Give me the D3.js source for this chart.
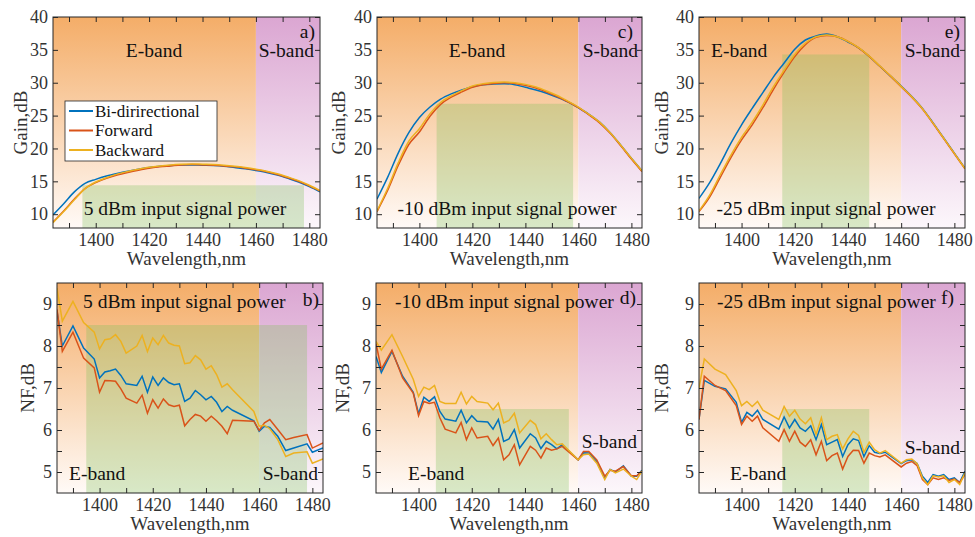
<!DOCTYPE html>
<html>
<head>
<meta charset="utf-8">
<script src="https://cdn.jsdelivr.net/npm/d3@7"></script>
<style>
body { margin: 0; background: white; }
svg text { font-family: "Liberation Serif", "Times New Roman", serif; }
</style>
</head>
<body>
<div id="chart"></div>
<script>
// gain curves, sampled every 4 nm
var gainWl = [1384, 1388, 1392, 1396, 1400, 1404, 1408, 1412, 1416, 1420, 1424, 1428, 1432, 1436, 1440, 1444, 1448, 1452, 1456, 1460, 1464, 1468, 1472, 1476, 1480, 1484];

// a) 5 dBm
var gainBiA = [9.9, 11.6, 13.4, 14.7, 15.3, 15.8, 16.2, 16.55, 16.85, 17.1, 17.3, 17.4, 17.5, 17.5, 17.45, 17.4, 17.3, 17.1, 16.9, 16.65, 16.35, 15.95, 15.45, 14.9, 14.2, 13.4];
var gainFwA = [8.8, 10.5, 12.3, 13.9, 14.8, 15.45, 15.95, 16.35, 16.7, 17.0, 17.2, 17.35, 17.5, 17.55, 17.5, 17.45, 17.35, 17.2, 17.0, 16.75, 16.45, 16.05, 15.55, 15.0, 14.3, 13.5];
var gainBwA = [8.7, 10.4, 12.2, 13.9, 14.9, 15.55, 16.1, 16.5, 16.85, 17.15, 17.35, 17.5, 17.6, 17.65, 17.6, 17.55, 17.45, 17.3, 17.1, 16.85, 16.55, 16.15, 15.65, 15.1, 14.4, 13.6];
// c) -10 dBm
var gainBiC = [12.3, 15.6, 19.3, 22.4, 24.7, 26.3, 27.5, 28.3, 28.9, 29.4, 29.7, 29.8, 29.85, 29.7, 29.3, 28.9, 28.4, 27.8, 27.1, 26.2, 25.2, 24.0, 22.4, 20.5, 18.5, 16.6];
var gainFwC = [10.4, 13.6, 17.4, 20.6, 22.5, 24.9, 26.7, 27.8, 28.6, 29.3, 29.7, 29.9, 30.0, 29.9, 29.6, 29.2, 28.6, 27.9, 27.1, 26.2, 25.1, 23.9, 22.3, 20.4, 18.4, 16.5];
var gainBwC = [10.5, 13.9, 17.8, 21.1, 23.0, 25.3, 27.0, 28.0, 28.8, 29.5, 29.85, 30.05, 30.1, 30.0, 29.75, 29.35, 28.75, 28.05, 27.2, 26.3, 25.2, 24.0, 22.4, 20.5, 18.5, 16.6];
// e) -25 dBm
var gainBiE = [12.4, 14.8, 17.7, 20.8, 23.6, 26.1, 28.5, 30.9, 33.0, 35.1, 36.5, 37.1, 37.4, 37.0, 36.2, 35.3, 34.0, 32.5, 31.0, 29.5, 27.9, 26.1, 23.9, 21.6, 19.3, 17.0];
var gainFwE = [10.4, 12.6, 15.6, 18.6, 21.3, 23.6, 26.2, 29.0, 31.6, 34.0, 35.8, 36.9, 37.2, 37.0, 36.3, 35.3, 34.0, 32.5, 31.0, 29.4, 27.8, 26.0, 23.8, 21.5, 19.2, 16.9];
var gainBwE = [10.5, 12.9, 16.0, 19.0, 21.7, 24.0, 26.6, 29.4, 31.9, 34.3, 36.0, 37.0, 37.25, 37.0, 36.3, 35.35, 34.05, 32.55, 31.05, 29.45, 27.85, 26.05, 23.85, 21.55, 19.25, 16.95];

// b) NF, 5 dBm
var nfWlB = [1384, 1386, 1390, 1394, 1398, 1400, 1402, 1404, 1406, 1408, 1410, 1414, 1416, 1418, 1420, 1422, 1424, 1426, 1428, 1430, 1432, 1434, 1436, 1438, 1440, 1442, 1444, 1446, 1448, 1450, 1458, 1460, 1462, 1464, 1467, 1470, 1473, 1478, 1480, 1484];
var nfBiB = [8.83, 8.0, 8.48, 7.95, 7.69, 7.24, 7.38, 7.41, 7.45, 7.30, 7.10, 7.06, 7.28, 6.90, 7.26, 7.06, 7.24, 7.13, 7.08, 7.10, 6.68, 6.76, 6.94, 6.84, 6.72, 6.80, 6.66, 6.44, 6.56, 6.47, 6.22, 5.97, 6.09, 6.06, 5.85, 5.51, 5.57, 5.67, 5.47, 5.57];
var nfFwB = [8.87, 7.87, 8.33, 7.71, 7.48, 6.90, 7.18, 7.17, 7.16, 6.98, 6.76, 6.64, 6.83, 6.40, 6.72, 6.52, 6.74, 6.60, 6.56, 6.59, 6.10, 6.25, 6.37, 6.33, 6.21, 6.33, 6.22, 6.09, 5.91, 6.23, 6.21, 5.99, 6.17, 6.25, 6.01, 5.77, 5.82, 5.89, 5.57, 5.69];
var nfBwB = [9.38, 8.59, 9.06, 8.56, 8.33, 7.93, 8.15, 8.17, 8.27, 8.11, 7.83, 8.0, 8.25, 7.87, 8.19, 8.03, 8.25, 8.07, 8.02, 8.0, 7.58, 7.6, 7.77, 7.67, 7.45, 7.53, 7.32, 7.02, 7.10, 6.96, 6.44, 6.09, 6.11, 6.03, 5.77, 5.37, 5.45, 5.48, 5.21, 5.31];

// d) NF, -10 dBm
var nfWlD = [1384, 1386, 1390, 1394, 1398, 1400, 1402, 1404, 1406, 1408, 1410, 1414, 1416, 1418, 1420, 1422, 1426, 1428, 1430, 1432, 1434, 1436, 1438, 1442, 1444, 1446, 1448, 1450, 1452, 1454, 1460, 1462, 1464, 1467, 1470, 1472, 1474, 1477, 1480, 1482, 1484];
var nfBiD = [7.75, 7.37, 7.87, 7.28, 6.90, 6.39, 6.78, 6.68, 6.79, 6.44, 6.26, 6.21, 6.47, 6.17, 6.34, 6.21, 6.19, 6.02, 6.25, 5.73, 5.79, 6.01, 5.57, 5.91, 5.81, 5.56, 5.73, 5.65, 5.55, 5.65, 5.29, 5.46, 5.45, 5.25, 4.86, 5.06, 5.0, 5.15, 4.90, 4.90, 5.04];
var nfFwD = [8.06, 7.45, 7.90, 7.24, 6.88, 6.34, 6.68, 6.63, 6.66, 6.29, 6.02, 5.93, 6.18, 5.77, 6.05, 5.81, 5.85, 5.63, 5.81, 5.29, 5.41, 5.65, 5.17, 5.61, 5.52, 5.33, 5.57, 5.52, 5.55, 5.61, 5.29, 5.49, 5.49, 5.29, 4.90, 5.04, 5.02, 5.13, 4.91, 4.91, 5.02];
var nfBwD = [8.11, 7.90, 8.27, 7.75, 7.21, 6.80, 7.02, 6.96, 7.06, 6.68, 6.63, 6.63, 6.90, 6.62, 6.80, 6.68, 6.64, 6.48, 6.64, 6.17, 6.23, 6.40, 5.93, 6.23, 6.13, 5.79, 5.91, 5.77, 5.65, 5.67, 5.29, 5.41, 5.43, 5.21, 4.82, 5.06, 4.98, 5.07, 4.90, 4.82, 5.02];

// f) NF, -25 dBm
var nfWlF = [1384, 1386, 1390, 1394, 1398, 1400, 1402, 1404, 1406, 1408, 1414, 1416, 1418, 1420, 1422, 1424, 1426, 1428, 1430, 1432, 1434, 1436, 1438, 1440, 1442, 1444, 1446, 1448, 1450, 1452, 1454, 1460, 1462, 1464, 1466, 1468, 1470, 1472, 1474, 1476, 1478, 1480, 1482, 1484];
var nfBiF = [6.25, 7.18, 7.04, 6.98, 6.66, 6.18, 6.42, 6.33, 6.47, 6.25, 6.02, 6.31, 6.05, 6.25, 6.05, 5.97, 6.10, 5.77, 6.13, 5.65, 5.71, 5.77, 5.37, 5.65, 5.79, 5.75, 5.37, 5.63, 5.47, 5.44, 5.47, 5.20, 5.27, 5.29, 5.20, 4.90, 4.75, 4.94, 4.90, 4.94, 4.82, 4.86, 4.75, 5.02];
var nfFwF = [6.25, 7.28, 7.06, 6.94, 6.58, 6.13, 6.33, 6.21, 6.33, 6.05, 5.73, 6.01, 5.73, 5.97, 5.71, 5.61, 5.77, 5.41, 5.73, 5.27, 5.39, 5.45, 5.07, 5.37, 5.52, 5.51, 5.21, 5.45, 5.39, 5.36, 5.41, 5.12, 5.21, 5.25, 5.15, 4.82, 4.70, 4.86, 4.82, 4.86, 4.80, 4.83, 4.75, 4.94];
var nfBwF = [7.0, 7.69, 7.45, 7.32, 6.94, 6.58, 6.68, 6.56, 6.68, 6.47, 6.25, 6.56, 6.33, 6.47, 6.26, 6.15, 6.29, 5.89, 6.29, 5.77, 5.85, 5.89, 5.55, 5.79, 5.97, 5.87, 5.47, 5.71, 5.53, 5.45, 5.51, 5.21, 5.29, 5.31, 5.20, 4.86, 4.70, 4.91, 4.88, 4.91, 4.75, 4.82, 4.70, 4.98];

var seriesNames = ['Bi-dirirectional', 'Forward', 'Backward'];
var seriesColors = ['#0072BD', '#D95319', '#EDB120'];

var xTickLabels = [1400, 1420, 1440, 1460, 1480];
var gainTickLabels = [10, 15, 20, 25, 30, 35, 40];
var nfTickLabels = [5, 6, 7, 8, 9];

// band split and 3 dB (green) window per panel a..f
var bandEdge = 1460;
var greenFrom = [1395, 1406.5, 1415.3, 1395, 1406.5, 1415.3];
var greenTo = [1478, 1458, 1448, 1478, 1456.5, 1448];
var greenTop = [14.4, 26.8, 34.3, 8.5, 6.5, 6.5];
var powerLabels = ['5 dBm input signal power', '-10 dBm input signal power', '-25 dBm input signal power'];

var svgWidth = 975, svgHeight = 537;
var svg = d3.select('#chart').append('svg')
    .attr('width', svgWidth)
    .attr('height', svgHeight)
    .style('background', 'white');

var defs = svg.append('defs');
function vGrad(id, top, bottom) {
    var g = defs.append('linearGradient').attr('id', id)
        .attr('x1', 0).attr('y1', 0).attr('x2', 0).attr('y2', 1);
    g.append('stop').attr('offset', '0%').attr('stop-color', top);
    g.append('stop').attr('offset', '100%').attr('stop-color', bottom);
}
vGrad('eband', '#f4ad68', '#fffaf7');
vGrad('sband', '#dba6d2', '#fcf7fb');

var panels = [
    {x0: 53, x1: 320, y0: 17, y1: 228, ylab: 20, gain: true, wl: gainWl, ys: [gainBiA, gainFwA, gainBwA]},
    {x0: 377, x1: 642, y0: 17, y1: 228, ylab: 338, gain: true, wl: gainWl, ys: [gainBiC, gainFwC, gainBwC]},
    {x0: 699, x1: 965, y0: 17, y1: 228, ylab: 661, gain: true, wl: gainWl, ys: [gainBiE, gainFwE, gainBwE]},
    {x0: 57, x1: 323, y0: 283, y1: 493, ylab: 27, gain: false, wl: nfWlB, ys: [nfBiB, nfFwB, nfBwB]},
    {x0: 376, x1: 642, y0: 283, y1: 493, ylab: 342, gain: false, wl: nfWlD, ys: [nfBiD, nfFwD, nfBwD]},
    {x0: 699, x1: 965, y0: 283, y1: 493, ylab: 661, gain: false, wl: nfWlF, ys: [nfBiF, nfFwF, nfBwF]}
];

// text placement per panel
var notes = [
    [{t: 'E-band', x: 154, y: 57, a: 'middle'}, {t: 'S-band', x: 314, y: 57, a: 'end'}, {t: 'a)', x: 315, y: 38, a: 'end'}, {t: powerLabels[0], x: 185, y: 215, a: 'middle'}],
    [{t: 'E-band', x: 477, y: 57, a: 'middle'}, {t: 'S-band', x: 638, y: 57, a: 'end'}, {t: 'c)', x: 633, y: 38, a: 'end'}, {t: powerLabels[1], x: 507, y: 215, a: 'middle'}],
    [{t: 'E-band', x: 711, y: 57, a: 'start'}, {t: 'S-band', x: 960, y: 57, a: 'end'}, {t: 'e)', x: 960, y: 38, a: 'end'}, {t: powerLabels[2], x: 826, y: 215, a: 'middle'}],
    [{t: 'E-band', x: 69, y: 480, a: 'start'}, {t: 'S-band', x: 318, y: 480, a: 'end'}, {t: 'b)', x: 319, y: 306, a: 'end'}, {t: powerLabels[0], x: 83, y: 308, a: 'start'}],
    [{t: 'E-band', x: 408, y: 480, a: 'start'}, {t: 'S-band', x: 637, y: 448, a: 'end'}, {t: 'd)', x: 636, y: 304, a: 'end'}, {t: powerLabels[1], x: 395, y: 308, a: 'start'}],
    [{t: 'E-band', x: 730, y: 480, a: 'start'}, {t: 'S-band', x: 960, y: 454, a: 'end'}, {t: 'f)', x: 954, y: 304, a: 'end'}, {t: powerLabels[2], x: 717, y: 308, a: 'start'}]
];

panels.forEach(function(p, i) {
    var x = d3.scaleLinear().domain([1384, 1484]).range([p.x0, p.x1]);
    var y = p.gain ? d3.scaleLinear().domain([7.9, 40]).range([p.y1, p.y0])
                   : d3.scaleLinear().domain([4.5, 9.5]).range([p.y1, p.y0]);
    var g = svg.append('g');

    defs.append('clipPath').attr('id', 'clip' + i)
        .append('rect').attr('x', p.x0).attr('y', p.y0)
        .attr('width', p.x1 - p.x0).attr('height', p.y1 - p.y0);

    //band backgrounds
    g.append('rect')
        .attr('x', p.x0).attr('y', p.y0)
        .attr('width', x(bandEdge) - p.x0).attr('height', p.y1 - p.y0)
        .attr('fill', 'url(#eband)');
    g.append('rect')
        .attr('x', x(bandEdge)).attr('y', p.y0)
        .attr('width', p.x1 - x(bandEdge)).attr('height', p.y1 - p.y0)
        .attr('fill', 'url(#sband)');

    //green window
    g.append('rect')
        .attr('x', x(greenFrom[i])).attr('y', y(greenTop[i]))
        .attr('width', x(greenTo[i]) - x(greenFrom[i])).attr('height', p.y1 - y(greenTop[i]))
        .attr('fill', '#7fbf5a').attr('opacity', 0.3);

    //curves
    var line = d3.line()
        .x(function(d) { return x(d[0]); })
        .y(function(d) { return y(d[1]); })
        .curve(p.gain ? d3.curveMonotoneX : d3.curveLinear);
    p.ys.forEach(function(vals, k) {
        g.append('path')
            .datum(p.wl.map(function(w, j) { return [w, vals[j]]; }))
            .attr('d', line)
            .attr('fill', 'none')
            .attr('stroke', seriesColors[k])
            .attr('stroke-width', 1.5)
            .attr('clip-path', 'url(#clip' + i + ')');
    });

    //axes, ticks inside on all sides
    var xTicks = d3.range(1390, 1481, 10);
    var yTicks = p.gain ? d3.range(10, 40.1, 5) : d3.range(5, 9.01, 0.5);
    var yLabels = p.gain ? gainTickLabels : nfTickLabels;

    var ax = g.append('g').attr('transform', 'translate(0,' + p.y1 + ')')
        .call(d3.axisBottom(x).tickValues(xTicks).tickSizeInner(-5).tickSizeOuter(0).tickPadding(5)
            .tickFormat(function(d) { return xTickLabels.indexOf(d) >= 0 ? d : ''; }));
    var axT = g.append('g').attr('transform', 'translate(0,' + p.y0 + ')')
        .call(d3.axisTop(x).tickValues(xTicks).tickSizeInner(-5).tickSizeOuter(0).tickFormat(''));
    var ay = g.append('g').attr('transform', 'translate(' + p.x0 + ',0)')
        .call(d3.axisLeft(y).tickValues(yTicks).tickSizeInner(-5).tickSizeOuter(0).tickPadding(5)
            .tickFormat(function(d) { return yLabels.indexOf(d) >= 0 ? d : ''; }));
    var ayR = g.append('g').attr('transform', 'translate(' + p.x1 + ',0)')
        .call(d3.axisRight(y).tickValues(yTicks).tickSizeInner(-5).tickSizeOuter(0).tickFormat(''));

    [ax, axT, ay, ayR].forEach(function(a) {
        a.select('.domain').remove();
        a.selectAll('line').attr('stroke', '#262626');
        a.selectAll('text')
            .attr('font-family', '"Liberation Serif", serif')
            .attr('font-size', '18px')
            .attr('fill', '#333');
    });

    //frame
    g.append('rect')
        .attr('x', p.x0).attr('y', p.y0)
        .attr('width', p.x1 - p.x0).attr('height', p.y1 - p.y0)
        .attr('fill', 'none').attr('stroke', '#262626').attr('stroke-width', 1);

    //axis titles
    g.append('text')
        .text('Wavelength,nm')
        .attr('x', (p.x0 + p.x1) / 2).attr('y', p.y1 + 37)
        .attr('text-anchor', 'middle')
        .attr('font-size', '19px').attr('fill', '#333');
    g.append('text')
        .text(p.gain ? 'Gain,dB' : 'NF,dB')
        .attr('transform', 'translate(' + p.ylab + ',' + (p.y0 + p.y1) / 2 + ') rotate(-90)')
        .attr('dy', '0.35em')
        .attr('text-anchor', 'middle')
        .attr('font-size', '19px').attr('fill', '#333');

    //annotations
    notes[i].forEach(function(n) {
        g.append('text')
            .text(n.t)
            .attr('x', n.x).attr('y', n.y)
            .attr('text-anchor', n.a)
            .attr('font-size', '19.5px')
            .attr('fill', '#111');
    });
});

//legend in panel a
var leg = svg.append('g');
leg.append('rect')
    .attr('x', 65).attr('y', 101)
    .attr('width', 152).attr('height', 60)
    .attr('fill', 'white').attr('stroke', '#262626').attr('stroke-width', 0.8);
seriesNames.forEach(function(name, k) {
    var cy = 111 + k * 19.5;
    leg.append('line')
        .attr('x1', 69).attr('y1', cy)
        .attr('x2', 93).attr('y2', cy)
        .attr('stroke', seriesColors[k]).attr('stroke-width', 2);
    leg.append('text')
        .text(name)
        .attr('x', 95).attr('y', cy + 5.5)
        .attr('font-size', '17px')
        .attr('fill', '#111');
});
</script>
</body>
</html>
